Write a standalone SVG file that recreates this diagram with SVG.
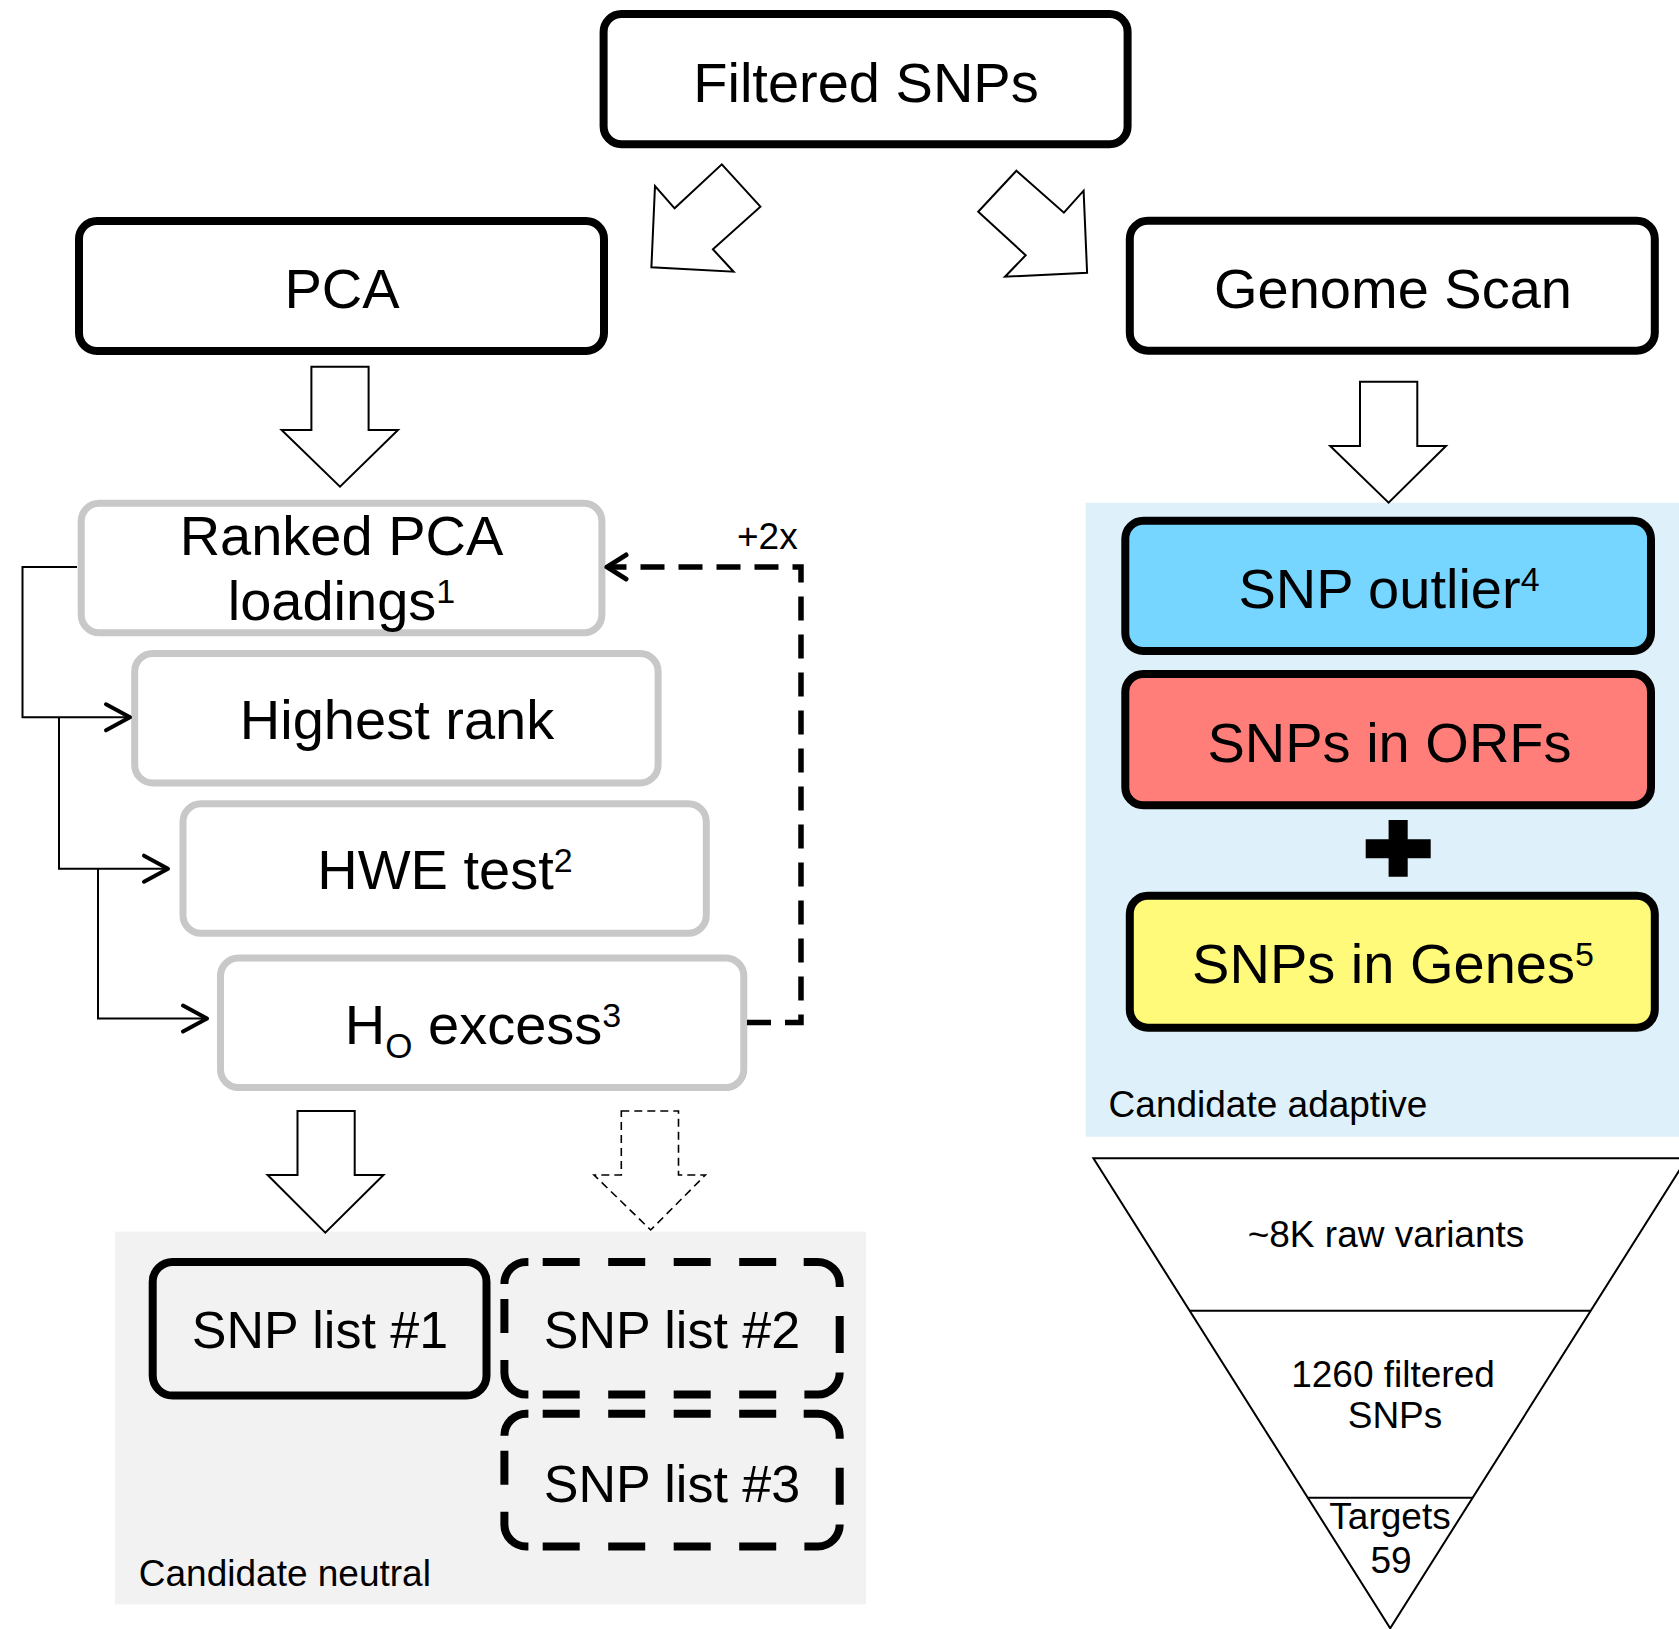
<svg xmlns="http://www.w3.org/2000/svg" width="1679" height="1629" viewBox="0 0 1679 1629">
<style>
text{font-family:"Liberation Sans",Arial,Helvetica,sans-serif;fill:#000}
.big{font-size:56px;text-anchor:middle}
.lst{font-size:52px;text-anchor:middle}
.mid{font-size:37px}
.sup{font-size:34px}
.blk{fill:#fff;stroke:#000;stroke-width:8}
.gry{fill:#fff;stroke:#c8c8c8;stroke-width:7}
.dsh{fill:none;stroke:#000;stroke-width:8;stroke-linecap:butt}
.bar{fill:#fff;stroke:#000;stroke-width:2;stroke-linejoin:miter}
.thin{fill:none;stroke:#000;stroke-width:2}
.fb{fill:none;stroke:#000;stroke-width:5.5;stroke-dasharray:24 14}
.fun{fill:none;stroke:#000;stroke-width:2}
</style>
<defs>
<marker id="chev" markerUnits="userSpaceOnUse" markerWidth="40" markerHeight="40" viewBox="-30 -20 40 40" refX="0" refY="0" orient="auto" overflow="visible">
<path d="M-24,-13 L0,0 L-24,13" fill="none" stroke="#000" stroke-width="4" stroke-linecap="round" stroke-linejoin="round"/>
</marker>
<marker id="chev2" markerUnits="userSpaceOnUse" markerWidth="40" markerHeight="40" viewBox="-30 -20 40 40" refX="0" refY="0" orient="auto" overflow="visible">
<path d="M-19,-12 L0,0 L-19,12" fill="none" stroke="#000" stroke-width="5" stroke-linecap="round" stroke-linejoin="round"/>
</marker>
<path id="dashbox" class="dsh" d="M0,22 A22,22 0 0 1 22,0 H24 M38.3,0 h37 m28.5,0 h37 m28.5,0 h37 m28.5,0 h37 M299.3,0 H313.3 A22,22 0 0 1 335.3,22 V25 M335.3,54 V91 M335.3,110.7 A22,22 0 0 1 313.3,132.7 H300 M38.3,132.7 h37 m28.5,0 h37 m28.5,0 h37 m28.5,0 h37 M24,132.7 H22 A22,22 0 0 1 0,110.7 V98 M0,37 V71"/>
</defs>

<rect id="panel-adaptive" x="1085.7" y="502.7" width="600" height="634" fill="#def1fa"/>
<rect id="panel-neutral" x="115" y="1231.6" width="751" height="372.8" fill="#f2f2f2"/>

<g id="filtered-snps">
<rect class="blk" x="603.6" y="14" width="524" height="130.3" rx="18"/>
<text class="big" x="866" y="101.7">Filtered SNPs</text>
</g>
<g id="pca">
<rect class="blk" x="79" y="221" width="525" height="130" rx="18"/>
<text class="big" x="342" y="308.3">PCA</text>
</g>
<g id="genome-scan">
<rect class="blk" x="1129.8" y="220.7" width="525" height="130" rx="18"/>
<text class="big" x="1393" y="308.3">Genome Scan</text>
</g>

<g id="snp-outlier">
<rect class="blk" x="1125.3" y="520.7" width="525.7" height="130.3" rx="18" style="fill:#76d6ff"/>
<text class="big" x="1389" y="608.3">SNP outlier<tspan class="sup" dy="-17">4</tspan></text>
</g>
<g id="snps-in-orfs">
<rect class="blk" x="1125.3" y="674" width="525.7" height="131.3" rx="18" style="fill:#ff7e79"/>
<text class="big" x="1389.5" y="761.7">SNPs in ORFs</text>
</g>
<path id="plus" d="M1388.6,820 H1407.7 V839.3 H1430.7 V858.3 H1407.7 V876.7 H1388.6 V858.3 H1365.7 V839.3 H1388.6 Z" fill="#000"/>
<g id="snps-in-genes">
<rect class="blk" x="1129.8" y="895.7" width="525" height="132" rx="18" style="fill:#fffa79"/>
<text class="big" x="1393" y="983.3">SNPs in Genes<tspan class="sup" dy="-17">5</tspan></text>
</g>
<text id="label-adaptive" class="mid" x="1108.6" y="1116.7">Candidate adaptive</text>

<g id="ranked-pca">
<rect class="gry" x="81.2" y="503.3" width="520.7" height="129.4" rx="18"/>
<text class="big" x="341.5" y="555">Ranked PCA</text>
<text class="big" x="341.5" y="620.4">loadings<tspan class="sup" dy="-17">1</tspan></text>
</g>
<g id="highest-rank">
<rect class="gry" x="134.7" y="653.5" width="523.4" height="129.4" rx="18"/>
<text class="big" x="397" y="739">Highest rank</text>
</g>
<g id="hwe-test">
<rect class="gry" x="183" y="803.8" width="523.3" height="129.4" rx="18"/>
<text class="big" x="445" y="889.3">HWE test<tspan class="sup" dy="-17">2</tspan></text>
</g>
<g id="ho-excess">
<rect class="gry" x="220.5" y="958" width="523.3" height="129.5" rx="18"/>
<text class="big" x="483" y="1043.5">H<tspan style="font-size:35px" dy="14">O</tspan><tspan dy="-14"> excess</tspan><tspan class="sup" dy="-17">3</tspan></text>
</g>

<g id="snp-list-1">
<rect class="blk" x="152.7" y="1261.9" width="333.8" height="133.7" rx="20" style="fill:none"/>
<text class="lst" x="320" y="1348">SNP list #1</text>
</g>
<g id="snp-list-2">
<use href="#dashbox" x="504.4" y="1261.9"/>
<text class="lst" x="672" y="1348">SNP list #2</text>
</g>
<g id="snp-list-3">
<use href="#dashbox" x="504.4" y="1413.7"/>
<text class="lst" x="672" y="1501.5">SNP list #3</text>
</g>
<text id="label-neutral" class="mid" x="138.8" y="1585.8">Candidate neutral</text>

<g id="funnel">
<polygon class="fun" points="1093.4,1158.3 1687,1158.3 1390.2,1628.3"/>
<line class="fun" x1="1189.6" y1="1310.7" x2="1590.8" y2="1310.7"/>
<line class="fun" x1="1307.7" y1="1497.7" x2="1472.7" y2="1497.7"/>
<text class="mid" text-anchor="middle" x="1386" y="1247.3">~8K raw variants</text>
<text class="mid" text-anchor="middle" x="1393" y="1386.7">1260 filtered</text>
<text class="mid" text-anchor="middle" x="1395" y="1428.3">SNPs</text>
<text class="mid" text-anchor="middle" x="1390" y="1529.3">Targets</text>
<text class="mid" text-anchor="middle" x="1391" y="1573.3">59</text>
</g>

<g id="connectors">
<polygon class="bar" points="721.8,164.3 760.4,206.7 712.9,249.3 733.6,271.7 651.4,267.3 655,186 674.6,208.3"/>
<polygon class="bar" points="1016.4,170.7 1063.9,212.7 1083.6,190.7 1087.1,272.7 1005,276.7 1025.7,255.3 978.2,211.7"/>
<polygon class="bar" points="311.4,366.7 368.6,366.7 368.6,430 398,430 340,486.7 281.6,430 311.4,430"/>
<polygon class="bar" points="1360,381.7 1417.3,381.7 1417.3,446 1446,446 1388.6,502.7 1330.2,446 1360,446"/>
<polygon class="bar" points="297.5,1111 354.7,1111 354.7,1175 383.5,1175 325.3,1232.6 267.6,1175 297.5,1175"/>
<polygon class="bar" points="621.3,1111 678.5,1111 678.5,1175 705.4,1175 650.7,1230 594,1175 621.3,1175" style="stroke-width:1.6;stroke-dasharray:8 5"/>
<path class="thin" d="M77,567 H22.5 V717.3 H130" marker-end="url(#chev)"/>
<path class="thin" d="M59,717.3 V868.7 H168" marker-end="url(#chev)"/>
<path class="thin" d="M98,868.7 V1018.6 H207" marker-end="url(#chev)"/>
<path class="fb" d="M747,1022.5 H801 V567 H607" marker-end="url(#chev2)"/>
<text class="mid" x="737" y="549">+2x</text>
</g>
</svg>
